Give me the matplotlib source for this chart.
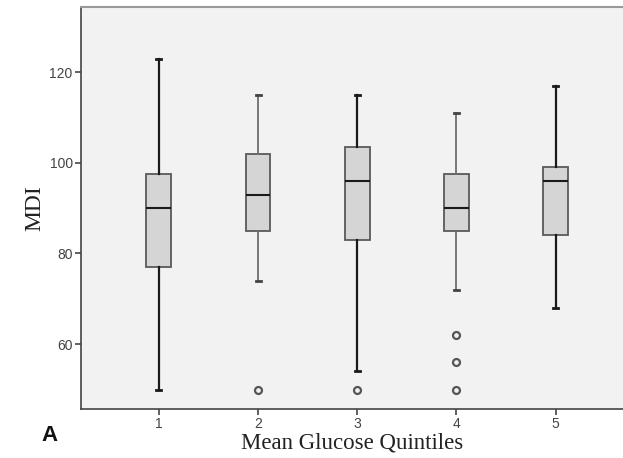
import matplotlib
matplotlib.use("Agg")
import matplotlib.pyplot as plt

# ---------------------------------------------------------------------------
# Data
# ---------------------------------------------------------------------------
quintiles = [1, 2, 3, 4, 5]
whisker_low = [50, 74, 54, 72, 68]
q1 = [77, 85, 83, 85, 84]
median = [90, 93, 96, 90, 96]
q3 = [97.5, 102, 103.5, 97.5, 99]
whisker_high = [123, 115, 115, 111, 117]
outliers = [[], [50], [50], [62, 56, 50], []]
y_ticks = [60, 80, 100, 120]

stats = []
for i, q in enumerate(quintiles):
    stats.append({
        "label": str(q),
        "whislo": whisker_low[i],
        "q1": q1[i],
        "med": median[i],
        "q3": q3[i],
        "whishi": whisker_high[i],
        "fliers": outliers[i],
    })

fig = plt.figure(figsize=(6.23, 4.58), dpi=100)
ax = fig.add_axes([0.130, 0.107, 0.870, 0.877])
ax.set_facecolor("#f2f2f2")

parts = ax.bxp(
    stats, positions=quintiles, widths=0.25, patch_artist=True,
    boxprops=dict(facecolor="#d5d5d5", edgecolor="#5a5a5a", linewidth=1.3),
    medianprops=dict(color="#1a1a1a", linewidth=1.5),
    whiskerprops=dict(color="#1a1a1a", linewidth=1.6),
    capprops=dict(color="#1a1a1a", linewidth=2.0),
    flierprops=dict(marker="o", markersize=5, markerfacecolor="none",
                    markeredgecolor="#555555", markeredgewidth=1.6),
    capwidths=0.05,
)

# quintiles 2 and 4 have lighter, thinner whiskers in the original
for i in (1, 3):
    for ln in parts["whiskers"][2 * i:2 * i + 2]:
        ln.set_color("#6e6e6e")
        ln.set_linewidth(1.3)
    for ln in parts["caps"][2 * i:2 * i + 2]:
        ln.set_color("#444444")

ax.set_xlim(0.215, 5.68)
ax.set_ylim(45.7, 134.3)
ax.set_yticks(y_ticks)
ax.set_xticks(quintiles)
ax.set_xticklabels([str(q) for q in quintiles])

ax.tick_params(axis="both", direction="out", length=4, width=1.2,
               color="#444444", labelcolor="#444444", labelsize=10, pad=2)
for lbl in ax.get_xticklabels() + ax.get_yticklabels():
    lbl.set_family("Liberation Sans")

for side in ("left", "bottom"):
    ax.spines[side].set_color("#444444")
    ax.spines[side].set_linewidth(1.2)
ax.spines["top"].set_color("#999999")
ax.spines["top"].set_linewidth(1.5)
ax.spines["right"].set_visible(False)

ax.set_xlabel("Mean Glucose Quintiles", family="Liberation Serif",
              fontsize=16.5, color="#222222", labelpad=1)
ax.set_ylabel("MDI", family="Liberation Serif", fontsize=17,
              color="#222222", labelpad=3)

fig.text(0.067, 0.038, "A", fontsize=16, fontweight="bold",
         family="Liberation Sans", color="#111111")

fig.savefig("out.png", dpi=100, facecolor="white")
